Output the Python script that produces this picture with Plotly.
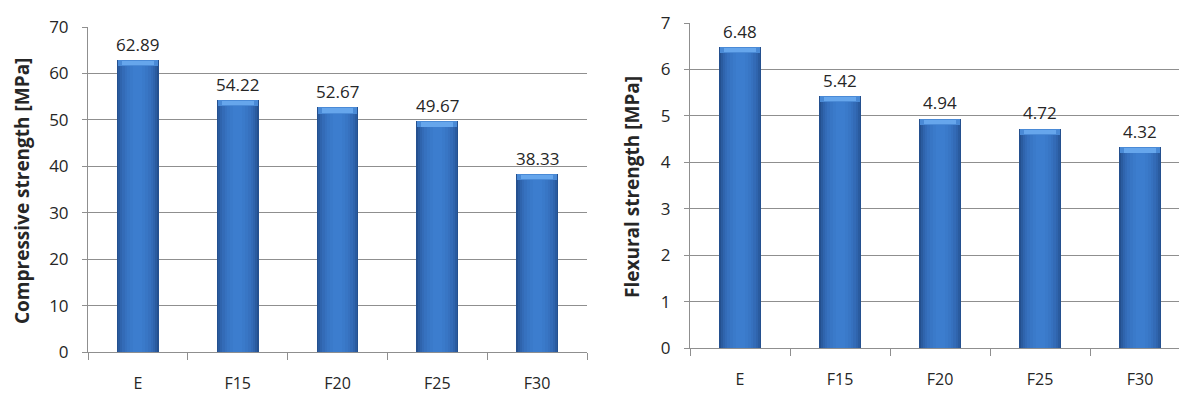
import plotly.graph_objects as go

# Mix designs and measured strengths
mixes = ["E", "F15", "F20", "F25", "F30"]
compressive = [62.89, 54.22, 52.67, 49.67, 38.33]
flexural = [6.48, 5.42, 4.94, 4.72, 4.32]

W, H = 1179, 396
FONT = "'Open Sans', Lato, sans-serif"
GRID = "#8f8f8f"
TEXT = "#262626"

fig = go.Figure()

# Stacked widths of the same column give a rounded, shaded look
# (dark edges fading into a lighter core)
layers = [
    (0.42, "#24508f"), (0.39, "#2a5b9f"), (0.35, "#2f64ad"), (0.31, "#336bb7"),
    (0.26, "#3671bf"), (0.21, "#3876c5"), (0.15, "#3a7aca"), (0.09, "#3c7dce"),
]


def add_bars(values, xa, ya, cap):
    for w, c in layers:
        fig.add_trace(go.Bar(
            x=mixes, y=values, width=w, marker=dict(color=c, line=dict(width=0)),
            xaxis=xa, yaxis=ya, showlegend=False, hoverinfo="skip",
        ))
    # lighter bevel along each column top
    fig.add_trace(go.Bar(
        x=mixes, y=[cap] * len(values), base=[v - cap for v in values], width=0.40,
        marker=dict(color="#4a8ad6", line=dict(width=0)),
        xaxis=xa, yaxis=ya, showlegend=False, hoverinfo="skip",
    ))
    fig.add_trace(go.Bar(
        x=mixes, y=[cap * 0.7] * len(values), base=[v - cap * 0.85 for v in values],
        width=0.32, marker=dict(color="#66a6ec", line=dict(width=0)),
        xaxis=xa, yaxis=ya, showlegend=False, hoverinfo="skip",
    ))
    # value labels above the columns
    for m, v in zip(mixes, values):
        fig.add_annotation(
            x=m, y=v, xref=xa, yref=ya, text=f"{v:.2f}", showarrow=False,
            yanchor="middle", yshift=16,
            font=dict(family=FONT, size=17, color=TEXT),
        )


add_bars(compressive, "x", "y", 1.3)
add_bars(flexural, "x2", "y2", 0.13)

xcommon = dict(
    type="category", tickson="boundaries", showgrid=False, showline=True,
    linecolor=GRID, linewidth=1, ticks="outside", tickcolor=GRID, ticklen=7,
    ticklabelstandoff=17, automargin=False,
    tickfont=dict(family=FONT, size=16, color=TEXT),
)
ycommon = dict(
    showgrid=True, gridcolor=GRID, gridwidth=1, zeroline=False, showline=True,
    linecolor=GRID, linewidth=1, ticks="outside", tickcolor=GRID, ticklen=5,
    ticklabelstandoff=10, automargin=False,
    tickfont=dict(family=FONT, size=17, color=TEXT),
)

fig.update_layout(
    width=W, height=H, margin=dict(l=0, r=0, t=0, b=0, autoexpand=False),
    paper_bgcolor="white", plot_bgcolor="white",
    barmode="overlay", bargap=0,
    xaxis=dict(domain=[88 / W, 587 / W], anchor="y", range=[-0.5, 4.5], **xcommon),
    yaxis=dict(domain=[44 / H, 369 / H], anchor="x", range=[0, 70], dtick=10, **ycommon),
    xaxis2=dict(domain=[690 / W, 1.0], anchor="y2", range=[-0.5, 4.39], **xcommon),
    yaxis2=dict(domain=[48 / H, 373 / H], anchor="x2", range=[0, 7], dtick=1, **ycommon),
)

for label, x, y in [("Compressive strength [MPa]", 22, 191),
                    ("Flexural strength [MPa]", 632, 187)]:
    fig.add_annotation(
        text=f"<b>{label}</b>", xref="paper", yref="paper",
        x=x / W, y=(H - y) / H, textangle=-90, showarrow=False,
        xanchor="center", yanchor="middle",
        font=dict(family=FONT, size=19, color=TEXT),
    )

fig.write_html("out.html")
